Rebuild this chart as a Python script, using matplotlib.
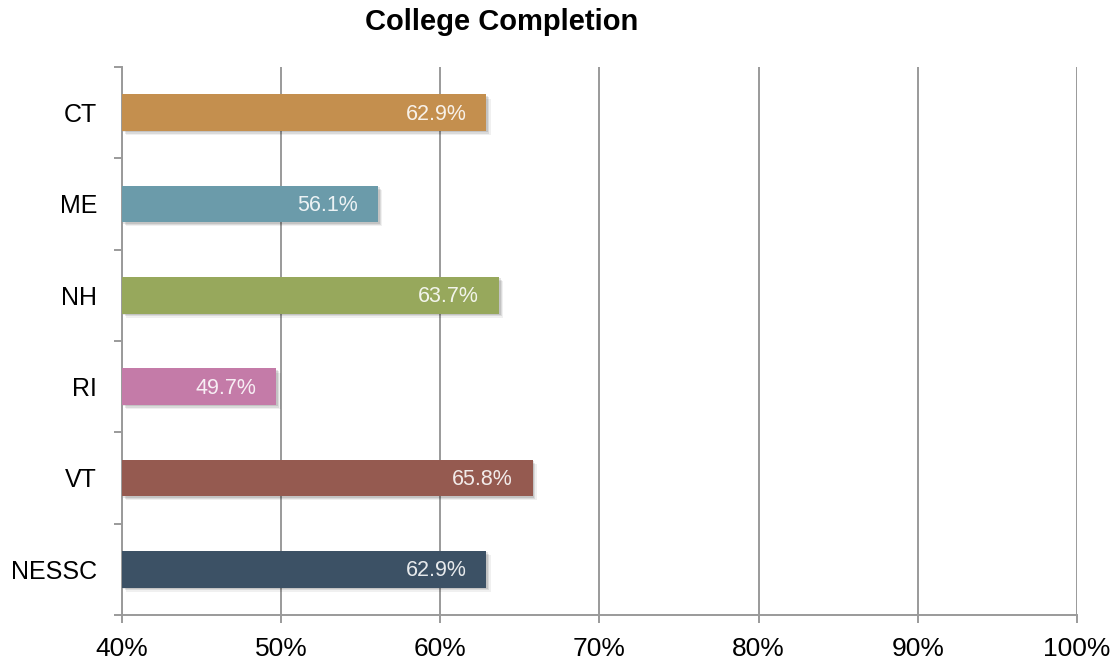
import matplotlib
matplotlib.use("Agg")
import matplotlib.pyplot as plt
import matplotlib.patheffects as pe
from matplotlib.ticker import FixedLocator, FuncFormatter

plt.rcParams['font.family'] = ['Liberation Sans', 'DejaVu Sans']

# College completion rates by state
states = ["CT", "ME", "NH", "RI", "VT", "NESSC"]
completion = [62.9, 56.1, 63.7, 49.7, 65.8, 62.9]
bar_colors = ["#C48F4E", "#6B9BAA", "#97A85C", "#C47BA8", "#955A50", "#3C5165"]
x_ticks = [40, 50, 60, 70, 80, 90, 100]

fig = plt.figure(figsize=(11.15, 6.64), dpi=100)
ax = fig.add_axes([122 / 1115, 1 - 615 / 664, (1077 - 122) / 1115, (615 - 67) / 664])

positions = list(range(len(states)))
shadow = [pe.SimplePatchShadow(offset=(3.0, -3.0), shadow_rgbFace="black", alpha=0.06),
          pe.SimplePatchShadow(offset=(2.0, -2.0), shadow_rgbFace="black", alpha=0.09),
          pe.SimplePatchShadow(offset=(1.0, -1.0), shadow_rgbFace="black", alpha=0.10),
          pe.Normal()]
bars = ax.barh(positions, [v - 40 for v in completion], left=40, height=0.4,
               color=bar_colors, zorder=3)
for b in bars:
    b.set_path_effects(shadow)

for y, v in zip(positions, completion):
    ax.annotate(f"{v:.1f}%", xy=(v, y), xytext=(-14.5, -1), textcoords="offset points",
                ha="right", va="center", fontsize=15.5, color="white", alpha=0.88,
                zorder=4)

ax.set_xlim(40, 100)
ax.set_ylim(len(states) - 0.5, -0.5)

ax.xaxis.set_major_locator(FixedLocator(x_ticks))
ax.xaxis.set_major_formatter(FuncFormatter(lambda v, p: f"{v:.0f}%"))
ax.grid(axis="x", color="#9A9A9A", linewidth=1.4, zorder=0)
ax.set_axisbelow(True)

ax.set_yticks(positions)
ax.set_yticklabels(states)
ax.yaxis.set_minor_locator(FixedLocator([p - 0.5 for p in range(len(states) + 1)]))

ax.tick_params(axis="y", which="major", length=0, pad=18, labelsize=18)
ax.tick_params(axis="y", which="minor", length=6, width=1.4, color="#9A9A9A", direction="out")
ax.tick_params(axis="x", which="major", length=6, width=1.4, color="#9A9A9A",
               direction="out", pad=10, labelsize=19)

for side in ("top", "right"):
    ax.spines[side].set_visible(False)
for side in ("left", "bottom"):
    ax.spines[side].set_color("#9A9A9A")
    ax.spines[side].set_linewidth(1.4)

fig.text(502 / 1115, 1 - 22 / 664, "College Completion", ha="center", va="center",
         fontsize=21, fontweight="bold")

fig.savefig("out.png", dpi=100, facecolor="white")
